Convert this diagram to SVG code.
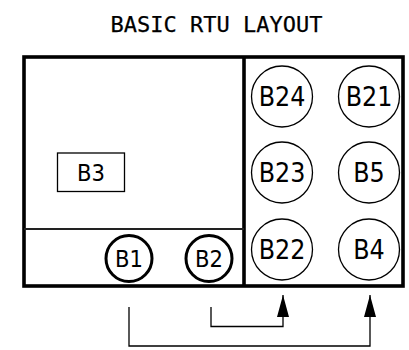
<svg xmlns="http://www.w3.org/2000/svg" width="409" height="350" viewBox="0 0 409 350">
<defs>
<marker id="arrow" markerUnits="userSpaceOnUse" markerWidth="22" markerHeight="12" refX="22" refY="6" orient="auto">
<path d="M0,0 L22,6 L0,12 z" fill="#000"/>
</marker>
<style>
.title{font-family:"DejaVu Sans Mono","Liberation Mono",monospace;font-size:22px;fill:#000;stroke:#000;stroke-width:0.25}
.lbl{font-family:"DejaVu Sans Condensed","DejaVu Sans",sans-serif;font-stretch:condensed;fill:#000;text-anchor:middle}
.big{font-size:26.5px}
.sm{font-size:23.5px}
.thin{fill:#fff;stroke:#000;stroke-width:1.3}
.thick{fill:#fff;stroke:#000;stroke-width:3}
.conn{fill:none;stroke:#000;stroke-width:1.3}
</style>
</defs>
<rect width="409" height="350" fill="#fff"/>
<text class="title" x="216.5" y="31.5" text-anchor="middle">BASIC RTU LAYOUT</text>
<g id="rtu">
<rect x="24" y="57" width="379" height="229" fill="none" stroke="#000" stroke-width="3.6"/>
<line x1="244" y1="57" x2="244" y2="286" stroke="#000" stroke-width="3.6"/>
<line x1="24" y1="229" x2="244" y2="229" stroke="#222" stroke-width="2"/>
</g>
<g id="B3"><rect x="57.5" y="153" width="67" height="38.5" fill="#fff" stroke="#000" stroke-width="1.3"/><text class="lbl sm" x="91" y="180.5">B3</text></g>
<g id="B1"><circle class="thick" cx="129" cy="258.5" r="23"/><text class="lbl sm" x="129" y="267">B1</text></g>
<g id="B2"><circle class="thick" cx="209" cy="258.5" r="23"/><text class="lbl sm" x="209" y="267">B2</text></g>
<g id="B24"><circle class="thin" cx="282" cy="96.5" r="30.5"/><text class="lbl big" x="282" y="106">B24</text></g>
<g id="B21"><circle class="thin" cx="369" cy="96.5" r="30.5"/><text class="lbl big" x="369" y="106">B21</text></g>
<g id="B23"><circle class="thin" cx="282" cy="172.5" r="30.5"/><text class="lbl big" x="282" y="182">B23</text></g>
<g id="B5"><circle class="thin" cx="369" cy="172.5" r="30.5"/><text class="lbl big" x="369" y="182">B5</text></g>
<g id="B22"><circle class="thin" cx="282" cy="249.5" r="30.5"/><text class="lbl big" x="282" y="259">B22</text></g>
<g id="B4"><circle class="thin" cx="369" cy="249.5" r="30.5"/><text class="lbl big" x="369" y="259">B4</text></g>
<g id="connectors">
<path class="conn" d="M129,307 V346 H370 V295" marker-end="url(#arrow)"/>
<path class="conn" d="M211,307 V326.5 H283 V295" marker-end="url(#arrow)"/>
</g>
</svg>
